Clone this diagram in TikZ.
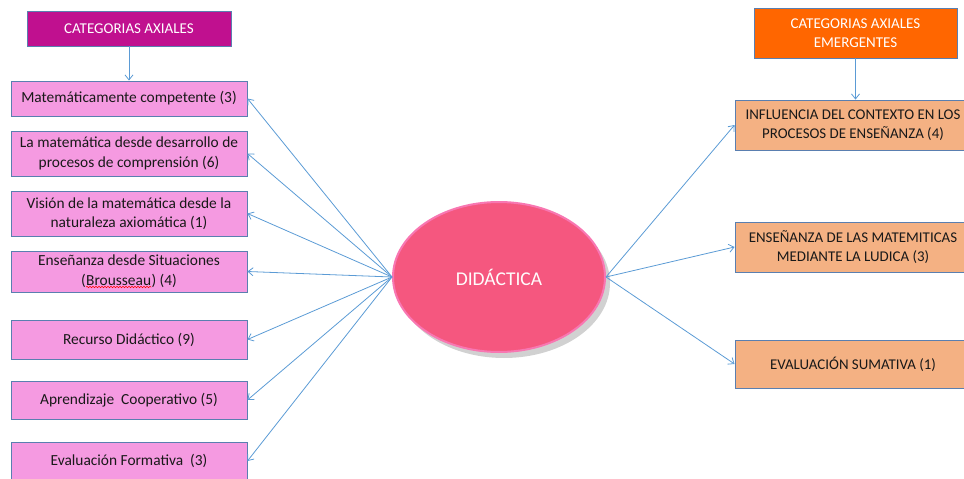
\documentclass[tikz,border=0pt]{standalone}
\usepackage{fontspec}
\setmainfont{Carlito}
\usetikzlibrary{arrows.meta,shadows,decorations.pathmorphing,shapes.geometric}
\definecolor{hdrmag}{HTML}{C0108F}
\definecolor{hdrorg}{HTML}{FF6600}
\definecolor{lbox}{HTML}{F59AE1}
\definecolor{rbox}{HTML}{F4B183}
\definecolor{bord}{HTML}{5A7FB0}
\definecolor{arr}{HTML}{5B9BD5}
\definecolor{ellf}{HTML}{F5577F}
\definecolor{ellr}{HTML}{F877B2}
\newcommand{\bodyfont}{\fontsize{15.4}{19.5}\selectfont}
\newcommand{\rbodyfont}{\fontsize{14.9}{19.5}\selectfont}
\tikzset{
  lbx/.style={draw=bord, line width=0.9pt, fill=lbox, minimum width=236pt, align=center, inner sep=2pt, font=\bodyfont, text=black!90},
  rbx/.style={draw=bord, line width=0.9pt, fill=rbox, minimum width=236pt, align=center, inner sep=2pt, font=\rbodyfont, text=black!90},
  hdr/.style={draw=bord, line width=0.9pt, align=center, text=white, inner sep=2pt, font=\fontsize{15}{19}\selectfont},
  conn/.style={draw=arr, line width=0.8pt, -{Straight Barb[length=5pt,width=8pt]}},
  plainw/.style={inner sep=0pt, minimum width=0pt, minimum height=0pt, draw=none, fill=none},
}
\begin{document}
\begin{tikzpicture}[x=1pt,y=1pt]
\useasboundingbox (0,0) rectangle (964,-479);
% headers
\node[hdr, fill=hdrmag, minimum width=204pt, minimum height=35pt] (HL) at (129,-28.5) {CATEGORIAS AXIALES};
\node[hdr, fill=hdrorg, minimum width=203pt, minimum height=50pt] (HR) at (855.5,-33) {CATEGORIAS AXIALES\\EMERGENTES};
% left boxes
\node[lbx, minimum height=35pt] (B1) at (129,-98.5) {Matemáticamente competente (3)};
\node[lbx, minimum height=45pt] (B2) at (129,-153.5) {La matemática desde desarrollo de\\procesos de comprensión (6)};
\node[lbx, minimum height=45pt] (B3) at (129,-213.5) {Visión de la matemática desde la\\naturaleza axiomática (1)};
\node[lbx, minimum height=41pt] (B4) at (129,-271.5) {Enseñanza desde Situaciones\\(\tikz[baseline=(bw.base)]{\node[plainw] (bw) {Brousseau}; \draw[red, line width=0.5pt, decorate, decoration={snake, amplitude=0.7pt, segment length=3pt}] ([yshift=-1.5pt]bw.south west) -- ([yshift=-1.5pt]bw.south east);}) (4)};
\node[lbx, minimum height=39pt] (B5) at (129,-339.5) {Recurso Didáctico (9)};
\node[lbx, minimum height=38pt] (B6) at (129,-400) {Aprendizaje\ \ Cooperativo (5)};
\node[lbx, minimum height=38pt] (B7) at (129,-461) {Evaluación Formativa\ \ (3)};
% right boxes
\node[rbx, minimum height=50pt] (R1) at (853,-125) {INFLUENCIA DEL CONTEXTO EN LOS\\PROCESOS DE ENSEÑANZA (4)};
\node[rbx, minimum height=50pt] (R2) at (853,-247) {ENSEÑANZA DE LAS MATEMITICAS\\MEDIANTE LA LUDICA (3)};
\node[rbx, minimum height=48pt] (R3) at (853,-364) {EVALUACIÓN SUMATIVA (1)};
% ellipse
\node[ellipse, minimum width=212pt, minimum height=150pt, fill=ellf, draw=ellr, line width=2pt,
  drop shadow={shadow xshift=5pt, shadow yshift=-6pt, opacity=0.3, fill=black!60},
  text=white!95!pink, font=\fontsize{19.5}{23}\selectfont] (D) at (499,-277) {DIDÁCTICA};
% connectors
\draw[conn] (HL) -- (B1);
\draw[conn] (HR) -- (R1.north -| HR.south);
\foreach \b in {B1,B2,B3,B4,B5,B6,B7} \draw[conn] (D.west) -- (\b.east);
\foreach \r in {R1,R2,R3} \draw[conn] (D.east) -- (\r.west);
\end{tikzpicture}
\end{document}
